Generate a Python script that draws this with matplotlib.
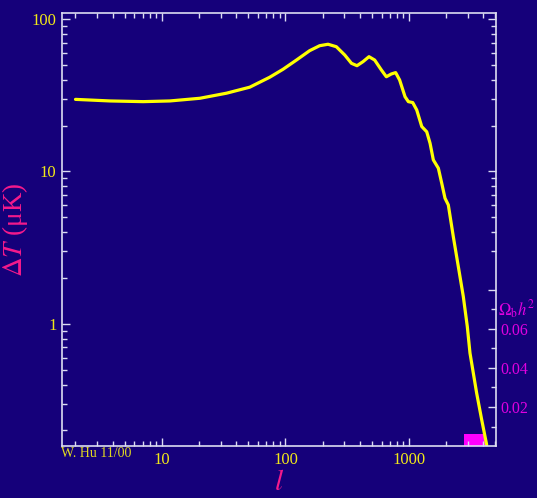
"""CMB temperature anisotropy spectrum, W. Hu style (dark background)."""

import matplotlib
matplotlib.use("Agg")
import matplotlib.pyplot as plt
from matplotlib.ticker import FixedLocator, NullFormatter, LogLocator

# Power spectrum (multipole l, Delta T in micro K)
ell = [2, 3.8, 7.06, 11.6, 20.3, 33.3, 51.4, 74.6, 95.6, 122.7, 157, 189,
       221, 258, 302, 342, 379, 424, 474, 527, 597, 655, 719, 779, 839, 928,
       987, 1071, 1154, 1267, 1390, 1479, 1572, 1726, 1838, 1954, 2078, 2280,
       2503, 2748, 2960, 3112, 3524, 3870, 4246]
delta_t = [29.7, 29.0, 28.7, 29.0, 30.2, 32.6, 35.7, 41.5, 46.8, 53.8, 62.0,
           66.8, 68.3, 65.8, 58.0, 51.2, 49.4, 52.5, 56.6, 53.8, 46.3, 41.8,
           43.6, 44.5, 39.8, 30.9, 28.7, 28.3, 25.3, 19.7, 18.2, 15.3, 11.9,
           10.5, 8.37, 6.67, 6.03, 3.74, 2.38, 1.51, 0.96, 0.643, 0.351,
           0.235, 0.161]

# Baryon density slider bar
ob_value = 0.006
ob_l_range = [2790, 4190]

x_ticks = [10, 100, 1000]
x_ticklabels = ["10", "100", "1000"]
y_ticks = [1, 10, 100]
y_ticklabels = ["1", "10", "100"]
ob_major = [0.02, 0.04, 0.06, 0.08]
ob_labels = ["0.02", "0.04", "0.06", ""]
ob_minor = [0.01, 0.03, 0.05, 0.07]
right_log_ticks = [3, 4, 5, 6, 7, 8, 9, 10, 20, 30, 40, 50, 60, 70, 80, 90, 100]

bg = "#15007a"
spine_c = "#dcdcf2"
yellow = "#f2e818"
pink = "#f51a8c"
magenta = "#e000e0"

plt.rcParams["font.family"] = ["Liberation Serif", "DejaVu Serif"]
plt.rcParams["mathtext.fontset"] = "stix"

fig = plt.figure(figsize=(5.37, 4.98), dpi=100, facecolor=bg)
rect = [0.1155, 0.1044, 0.8081, 0.8695]

# Omega_b h^2 axis (linear, right side) sits underneath the main axes
ax3 = fig.add_axes(rect)
ax3.set_facecolor(bg)
ax3.set_xscale("log")
ax3.set_xlim(1.556, 5050)
ax3.set_ylim(0, 0.222)
ax3.bar(ob_l_range[0], ob_value, width=ob_l_range[1] - ob_l_range[0],
        align="edge", color="#ff00ff", linewidth=0)
ax3.xaxis.set_visible(False)
ax3.yaxis.tick_right()
ax3.yaxis.set_major_locator(FixedLocator(ob_major))
ax3.yaxis.set_minor_locator(FixedLocator(ob_minor))
ax3.set_yticklabels(ob_labels)
ax3.tick_params(axis="y", which="both", direction="in", colors=spine_c,
                labelcolor=magenta, labelsize=11.5, pad=3)
ax3.tick_params(axis="y", which="major", length=6, width=1)
ax3.tick_params(axis="y", which="minor", length=3.5, width=1)
ax3.annotate(r"$\Omega_{\rm b}h^2$", xy=(1.0, 0.07),
             xycoords=("axes fraction", "data"), xytext=(1.5, 0),
             textcoords="offset points", va="center", ha="left",
             color=magenta, fontsize=12)
for s in ax3.spines.values():
    s.set_visible(False)

# Right-hand mirror of the log ticks (only from 3 upwards)
ax2 = fig.add_axes(rect, sharex=ax3)
ax2.patch.set_visible(False)
ax2.set_yscale("log")
ax2.set_ylim(0.158, 109.5)
ax2.xaxis.set_visible(False)
ax2.yaxis.tick_right()
ax2.yaxis.set_major_locator(FixedLocator([10, 100]))
ax2.yaxis.set_minor_locator(FixedLocator(right_log_ticks))
ax2.yaxis.set_major_formatter(NullFormatter())
ax2.yaxis.set_minor_formatter(NullFormatter())
ax2.tick_params(axis="y", which="both", direction="in", colors=spine_c)
ax2.tick_params(axis="y", which="major", length=6, width=1)
ax2.tick_params(axis="y", which="minor", length=3.5, width=1)
for s in ax2.spines.values():
    s.set_visible(False)

# Main axes
ax = fig.add_axes(rect, sharex=ax3)
ax.patch.set_visible(False)
ax.set_xscale("log")
ax.set_yscale("log")
ax.set_xlim(1.556, 5050)
ax.set_ylim(0.158, 109.5)
ax.plot(ell, delta_t, color="#ffff00", linewidth=2.3,
        solid_joinstyle="round", solid_capstyle="round", clip_on=True)

ax.xaxis.set_major_locator(FixedLocator(x_ticks))
ax.set_xticklabels(x_ticklabels)
ax.xaxis.set_minor_locator(LogLocator(base=10, subs=range(2, 10)))
ax.xaxis.set_minor_formatter(NullFormatter())
ax.yaxis.set_major_locator(FixedLocator(y_ticks))
ax.set_yticklabels(y_ticklabels)
ax.yaxis.set_minor_locator(LogLocator(base=10, subs=range(2, 10)))
ax.yaxis.set_minor_formatter(NullFormatter())

ax.tick_params(which="both", direction="in", colors=spine_c,
               labelcolor=yellow, labelsize=12, top=True, right=False,
               pad=4)
ax.tick_params(which="major", length=6, width=1)
ax.tick_params(which="minor", length=3.5, width=1)

for s in ax.spines.values():
    s.set_color(spine_c)
    s.set_linewidth(1.2)

ax.set_xlabel(r"$l$", color=pink, fontsize=21, labelpad=2)
ax.set_ylabel(r"$\Delta T$ (μK)", color=pink, fontsize=19.5)
ax.yaxis.set_label_coords(-0.073, 0.5)

fig.text(61 / 537, 1 - 457 / 498, "W. Hu 11/00", color="#e0d820",
         fontsize=10, va="baseline", ha="left")

fig.savefig("out.png", dpi=100, facecolor=bg)
